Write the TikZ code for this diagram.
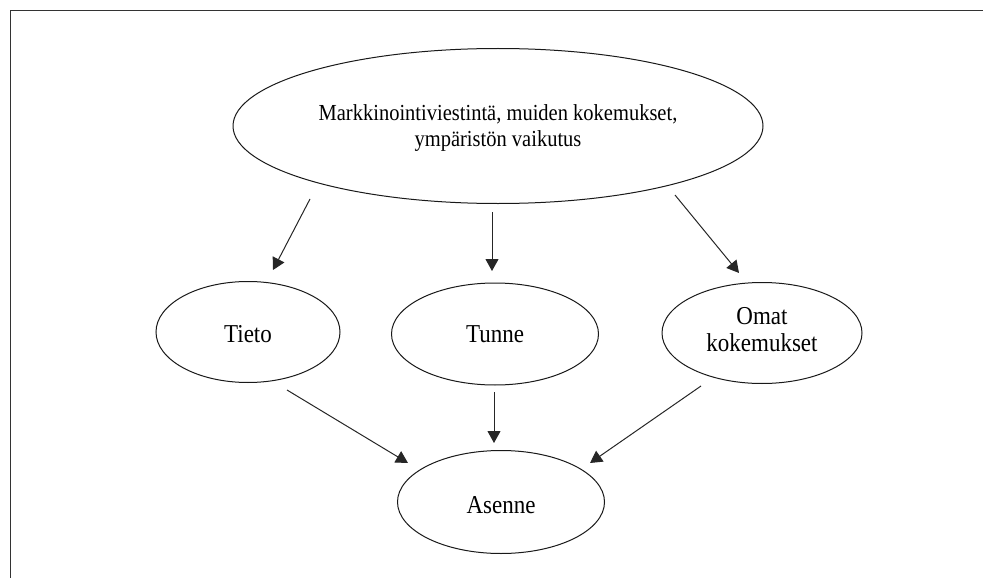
\documentclass[tikz,border=0pt]{standalone}
\usepackage{fontspec}
\usepackage{graphicx}
\setmainfont{Liberation Serif}
\usetikzlibrary{shapes.geometric,arrows.meta}
\newcommand{\tallbox}[2][0pt]{\raisebox{#1}[\height][\depth]{\scalebox{1}[1.12]{\begin{tabular}{@{}c@{}}#2\end{tabular}}}}
\begin{document}
\begin{tikzpicture}[x=1pt,y=-1pt,
  oval/.style={draw=black!90, line width=1pt, ellipse, inner sep=0pt, align=center, font=\fontsize{23}{24}\selectfont},
  arr/.style={draw=black!85, line width=1pt, -{Triangle[length=12pt,width=13pt]}},
  framestyle/.style={draw=black!80, line width=1.5pt}]
\useasboundingbox (0,0) rectangle (983,578);
\coordinate (fTL) at (10.5,10.5);
\coordinate (fTR) at (983,10.5);
\coordinate (fBL) at (10.5,578);
\draw[framestyle] (fTR) -- (fTL) -- (fBL);

\node[oval, minimum width=530pt, minimum height=155pt, font=\fontsize{20.5}{23.5}\selectfont] (src) at (498,126) {\tallbox[-2pt]{Markkinointiviestintä, muiden kokemukset,\\ympäristön vaikutus}};
\node[oval, minimum width=184pt, minimum height=101pt] (tieto) at (248,332) {\tallbox[-5pt]{Tieto}};
\node[oval, minimum width=207pt, minimum height=102pt] (tunne) at (495,334) {\tallbox[-3pt]{Tunne}};
\node[oval, minimum width=200pt, minimum height=101pt] (omat) at (762,333) {\tallbox{Omat\\kokemukset}};
\node[oval, minimum width=207pt, minimum height=103pt] (asenne) at (501,502) {\tallbox[-6pt]{Asenne}};

\coordinate (a1s) at (310,199); \coordinate (a1e) at (273,270);
\coordinate (a2s) at (492,212); \coordinate (a2e) at (492,271);
\coordinate (a3s) at (675,195); \coordinate (a3e) at (739,273);
\coordinate (b1s) at (287,390); \coordinate (b1e) at (408,463);
\coordinate (b2s) at (494,392); \coordinate (b2e) at (494,443);
\coordinate (b3s) at (701,386); \coordinate (b3e) at (590,463);

\draw[arr] (a1s) -- (a1e);
\draw[arr] (a2s) -- (a2e);
\draw[arr] (a3s) -- (a3e);
\draw[arr] (b1s) -- (b1e);
\draw[arr] (b2s) -- (b2e);
\draw[arr] (b3s) -- (b3e);
\end{tikzpicture}
\end{document}
